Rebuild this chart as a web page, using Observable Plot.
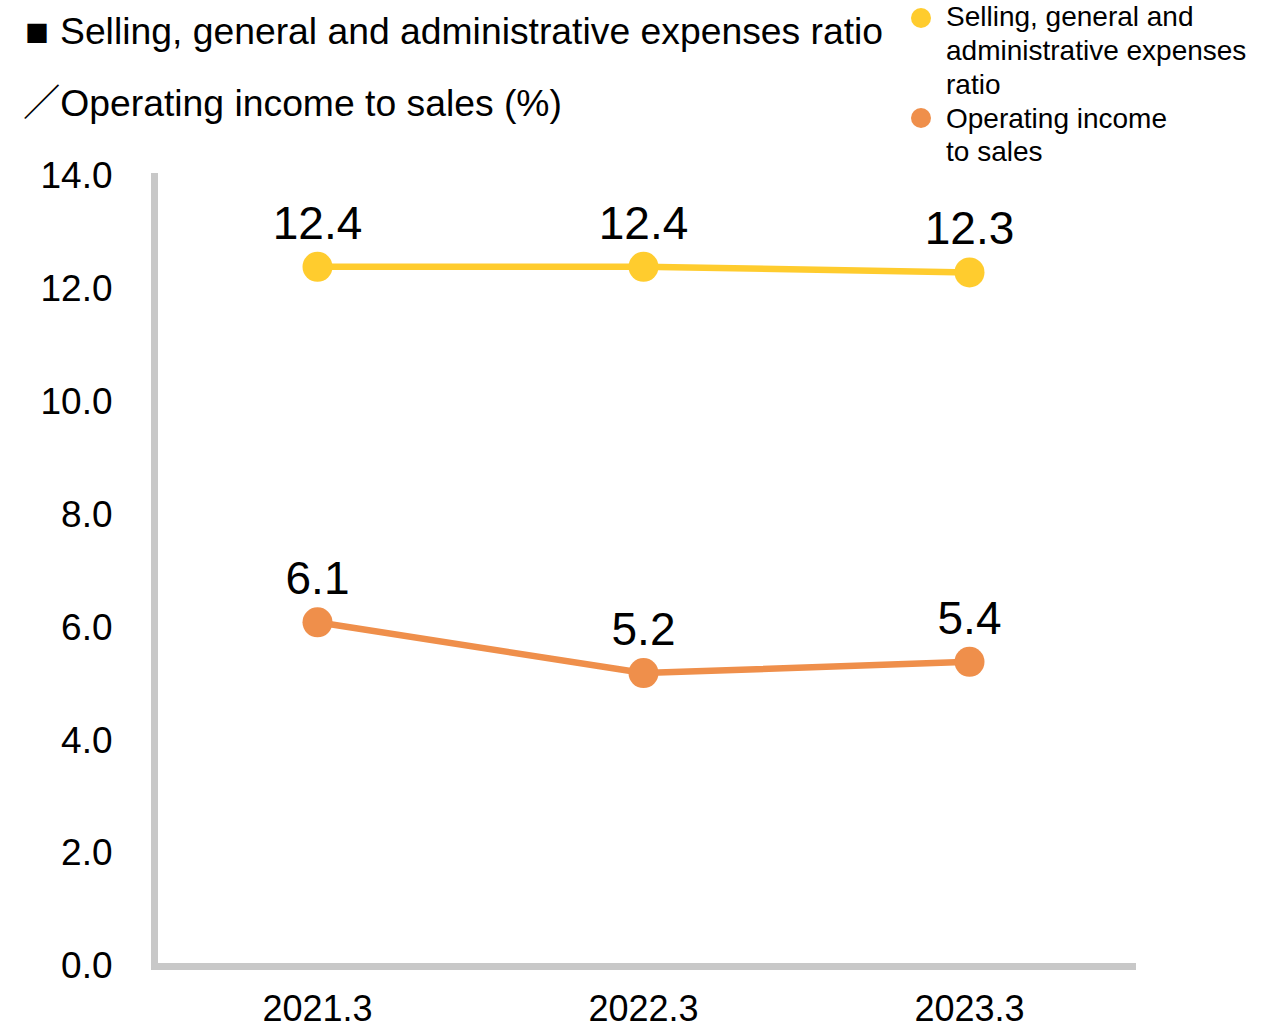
<!DOCTYPE html>
<html>
<head>
<meta charset="utf-8">
<script src="https://cdn.jsdelivr.net/npm/d3@7"></script>
<script src="https://cdn.jsdelivr.net/npm/@observablehq/plot@0.6"></script>
<style>
  html, body { margin: 0; padding: 0; background: #fff; }
  #wrap { position: relative; width: 1265px; height: 1029px; overflow: hidden; font-family: "Liberation Sans", Arial, sans-serif; color: #000; background: #fff; }
  .title { position: absolute; left: 23px; font-size: 37.3px; line-height: 1; white-space: nowrap; z-index: 2; }
  .cjk { font-family: "Noto Sans CJK JP", sans-serif; }
  .sq { display: inline-block; width: 37px; font-size: 24px; padding-left: 2px; box-sizing: border-box; vertical-align: 2px; line-height: 1; }
  .leg { position: absolute; left: 946px; font-size: 28px; line-height: 34px; white-space: nowrap; z-index: 2; }
  .dot { position: absolute; width: 20px; height: 20px; border-radius: 50%; z-index: 2; }
  #chart { position: absolute; left: 0; top: 140px; z-index: 1; }
</style>
</head>
<body>
<div id="wrap">
  <div id="chart"></div>
  <div class="title" style="top:13px"><span class="cjk sq">■</span>Selling, general and administrative expenses ratio</div>
  <div class="title" style="top:82px"><span class="cjk">／</span>Operating income to sales (%)</div>
  <div class="dot" style="left:911px; top:8px; background:#FFCC2E"></div>
  <div class="dot" style="left:911px; top:108px; background:#EF8F4B"></div>
  <div class="leg" style="top:0px">Selling, general and<br>administrative expenses<br>ratio</div>
  <div class="leg" style="top:102px; line-height:33px">Operating income<br>to sales</div>
</div>
<script>
const years = ["2021.3", "2022.3", "2023.3"];
const sgaRatio = [12.4, 12.4, 12.3];
const opMargin = [6.1, 5.2, 5.4];
const yTicks = [0, 2, 4, 6, 8, 10, 12, 14];
const seriesNames = ["Selling, general and administrative expenses ratio", "Operating income to sales"];
const seriesColors = ["#FFCC2E", "#EF8F4B"];

const rows = [];
years.forEach((y, i) => {
  rows.push({year: y, value: sgaRatio[i], series: seriesNames[0]});
  rows.push({year: y, value: opMargin[i], series: seriesNames[1]});
});

const chart = Plot.plot({
  width: 1265,
  height: 889,
  marginLeft: 154,
  marginRight: 133,
  marginTop: 36,
  marginBottom: 63,
  style: {fontFamily: "'Liberation Sans', Arial, sans-serif", fontSize: "37px", color: "#000", background: "transparent", overflow: "visible"},
  x: {type: "point", domain: years, padding: 0.5, label: null},
  y: {domain: [0, 14], label: null},
  color: {domain: seriesNames, range: seriesColors},
  marks: [
    Plot.axisY({ticks: yTicks, tickFormat: d => d.toFixed(1), tickSize: 0, tickPadding: 42, fontSize: 37, label: null}),
    Plot.axisX({tickSize: 0, tickPadding: 29, fontSize: 36, label: null}),
    Plot.frame({anchor: "left", stroke: "#c8c8c8", strokeWidth: 7, strokeOpacity: 1, strokeLinecap: "square"}),
    Plot.frame({anchor: "bottom", stroke: "#c8c8c8", strokeWidth: 7, strokeOpacity: 1, strokeLinecap: "square"}),
    Plot.line(rows, {x: "year", y: "value", z: "series", stroke: "series", strokeWidth: 6.5}),
    Plot.dot(rows, {x: "year", y: "value", fill: "series", r: 15}),
    Plot.text(rows, {x: "year", y: "value", text: d => d.value.toFixed(1), fontSize: 46, dy: -43, fill: "#000"})
  ]
});
document.getElementById("chart").appendChild(chart);
</script>
</body>
</html>
